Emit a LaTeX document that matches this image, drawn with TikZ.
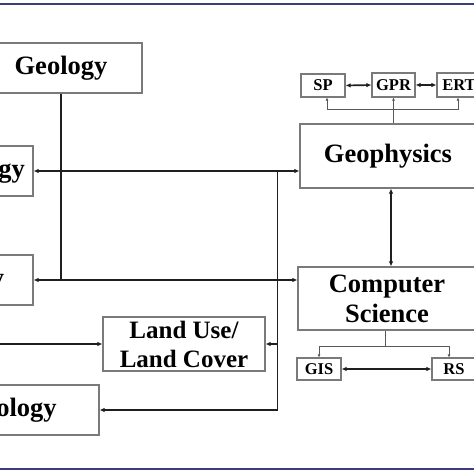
\documentclass[tikz,border=0pt]{standalone}
\usepackage{fontspec}
\setmainfont{Liberation Serif}
\usetikzlibrary{arrows.meta}
\definecolor{rule}{HTML}{3C3C7C}
\begin{document}
\begin{tikzpicture}[x=1pt,y=-1pt,
  box/.style={draw=black!52, line width=1.1pt, inner sep=0pt, align=center,
    font=\bfseries\fontsize{26.5}{30}\selectfont},
  lubox/.style={box, font=\bfseries\fontsize{25}{29}\selectfont},
  smallbox/.style={draw=black!52, line width=1.1pt, inner sep=0pt,
    font=\bfseries\fontsize{16.5}{18}\selectfont},
  conn/.style={draw=black!88, line width=1.7pt},
  tip/.style={-{Latex[length=5pt,width=4.5pt]}},
  dbl/.style={{Latex[length=5pt,width=4.5pt]}-{Latex[length=5pt,width=4.5pt]}},
  brk/.style={draw=black!65, line width=0.9pt},
  smalltips/.style={{Latex[length=3pt,width=3pt]}-{Latex[length=3pt,width=3pt]}},
  smalltip/.style={-{Latex[length=3pt,width=3pt]}}
]
\useasboundingbox (0,0) rectangle (474,474);
\clip (0,0) rectangle (474,474);
\fill[white] (0,0) rectangle (474,474);

% left column
\node[box, minimum width=162pt, minimum height=50pt] (geology) at (61,68) {Geology};
\node[box, minimum width=175pt, minimum height=50pt] (hydro) at (-54.5,171) {Hydrogeology};
\node[box, minimum width=161pt, minimum height=50pt] (pedo) at (-47.5,280) {Pedology};
\node[box, minimum width=227pt, minimum height=50pt] (arch) at (-14.5,410) {Archaeology};
\node[lubox, minimum width=162pt, minimum height=54pt] (landuse) at (184,344) {Land Use/\\Land Cover};

% right column
\node[box, minimum width=176pt, minimum height=64pt] (geoph) at (388,156) {Geophysics};
\node[box, minimum width=178pt, minimum height=63pt] (cs) at (387,298.5) {Computer\\Science};
\node[smallbox, minimum width=44pt, minimum height=23pt] (sp) at (323,85.5) {SP};
\node[smallbox, minimum width=43pt, minimum height=24pt] (gpr) at (393.5,85) {GPR};
\node[smallbox, minimum width=44pt, minimum height=24pt] (ert) at (459,85) {ERT};
\node[smallbox, minimum width=44pt, minimum height=22pt] (gis) at (319,369) {GIS};
\node[smallbox, minimum width=44pt, minimum height=22pt] (rs) at (454,369) {RS};

% helper coordinates
\coordinate (jt) at ([xshift=-22pt]geoph.west |- hydro.east);
\coordinate (lin) at (0,344);
\coordinate (bk) at (0,109);
\coordinate (bk2) at (0,346);

% main connectors
\draw[conn, dbl] (hydro.east) -- (hydro.east -| geoph.west);
\draw[conn, dbl] (pedo.east) -- (pedo.east -| cs.west);
\draw[conn] (geology.south) -- (geology.south |- pedo.east);
\draw[conn, tip] (jt) -- (jt |- arch.east) -- (arch.east);
\draw[conn, tip] (jt |- landuse.east) -- (landuse.east);
\draw[conn, tip] (lin) -- (landuse.west);
\draw[conn, dbl] ([xshift=3pt]geoph.south) -- ([xshift=3pt]geoph.south |- cs.north);

% geophysics methods
\draw[conn, dbl] (sp.east) -- (gpr.west);
\draw[conn, dbl] (gpr.east) -- (ert.west);
\draw[brk, smalltips] ([xshift=4pt]sp.south) -- ([xshift=4pt]sp.south |- bk) -- ([xshift=-1pt]ert.south |- bk) -- ([xshift=-1pt]ert.south);
\draw[brk, smalltip] (gpr.south |- geoph.north) -- (gpr.south);

% computer science tools
\draw[brk] ([xshift=-2pt]cs.south) -- ([xshift=-2pt]cs.south |- bk2);
\draw[brk, smalltips] (gis.north) -- (gis.north |- bk2) -- ([xshift=-5pt]rs.north |- bk2) -- ([xshift=-5pt]rs.north);
\draw[conn, dbl] (gis.east) -- (rs.west);

% frame rules
\draw[rule, line width=1.8pt] (0,4) -- (474,4);
\draw[rule, line width=2.2pt] (0,469) -- (474,469);
\end{tikzpicture}
\end{document}
